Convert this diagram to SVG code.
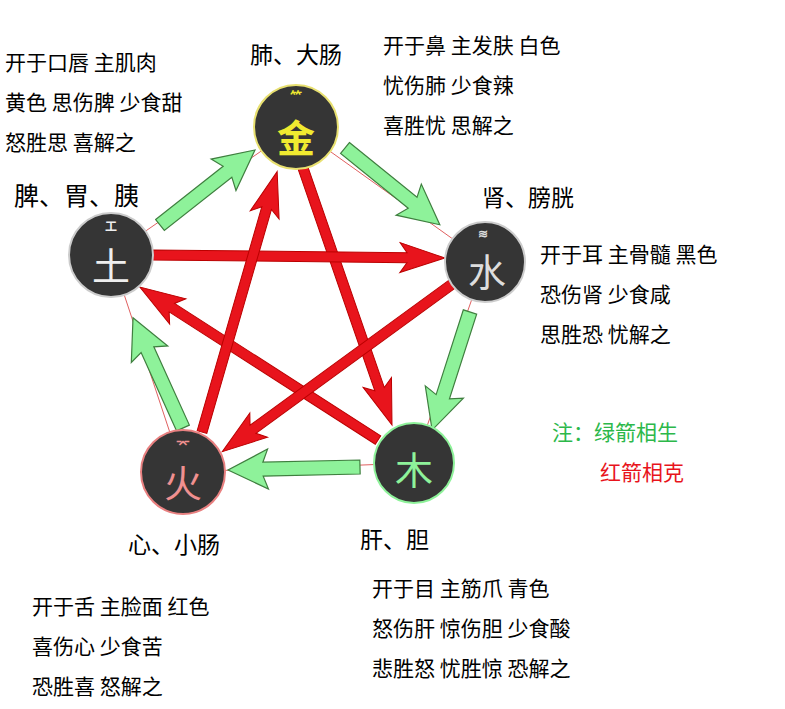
<svg xmlns="http://www.w3.org/2000/svg" width="785" height="709" viewBox="0 0 785 709">
<style>
text{font-family:"Noto Sans CJK SC","Noto Sans",sans-serif;fill:#000}
.t{font-size:21px}
.lb{font-size:23px}
.g{fill:#8ef29a;stroke:#3f7f3f;stroke-width:1.2}
.r{fill:#e8141c;stroke:#b00;stroke-width:1}
.c{fill:#353535;stroke-width:2}
.e{font-size:38px;text-anchor:middle}
.s{font-size:12px;text-anchor:middle;font-weight:bold}
</style>
<rect width="785" height="709" fill="#fff"/>
<g id="connectors">
<polygon points="296,127 485,262 414,463 183,472 111,255" fill="none" stroke="#e06060" stroke-width="1"/>
<g transform="translate(160,225) rotate(-38.3)"><polygon class="g" points="0,-7 86,-7 81,-20 121,0 81,20 86,7 0,7"/></g>
<g transform="translate(345,148) rotate(39)"><polygon class="g" points="0,-7 87,-7 82,-20 122,0 82,20 87,7 0,7"/></g>
<g transform="translate(470,312) rotate(107.8)"><polygon class="g" points="0,-7 89,-7 84,-20 124,0 84,20 89,7 0,7"/></g>
<g transform="translate(360,467) rotate(178.7)"><polygon class="g" points="0,-7 97,-7 92,-20 132,0 92,20 97,7 0,7"/></g>
<g transform="translate(183,428) rotate(-114.4)"><polygon class="g" points="0,-7 86,-7 81,-20 121,0 81,20 86,7 0,7"/></g>
<g transform="translate(303,168) rotate(70.9)"><polygon class="r" points="0,-5 234,-5 227,-15 272,0 227,15 234,5 0,5"/></g>
<g transform="translate(378,440) rotate(212.7)"><polygon class="r" points="0,-5 245,-5 238,-15 283,0 238,15 245,5 0,5"/></g>
<g transform="translate(152,255) rotate(0.6)"><polygon class="r" points="0,-5 255,-5 248,-15 293,0 248,15 255,5 0,5"/></g>
<g transform="translate(455,282) rotate(143.9)"><polygon class="r" points="0,-5 250,-5 243,-15 288,0 243,15 250,5 0,5"/></g>
<g transform="translate(202,432) rotate(-73.9)"><polygon class="r" points="0,-5 233,-5 226,-15 271,0 226,15 233,5 0,5"/></g>
</g>
<g id="metal">
<circle class="c" cx="296" cy="127" r="42" stroke="#e8e070"/>
<text class="s" x="296" y="101" style="fill:#f0ea30">⺮</text>
<text class="e" x="296" y="152" style="fill:#f0ea30;font-weight:bold">金</text>
<text class="lb" x="296" y="63" text-anchor="middle">肺、大肠</text>
<text class="t" x="383" y="53">开于鼻 主发肤 白色</text>
<text class="t" x="383" y="93">忧伤肺 少食辣</text>
<text class="t" x="383" y="133">喜胜忧 思解之</text>
</g>
<g id="water">
<circle class="c" cx="485" cy="262" r="40" stroke="#ccc"/>
<text class="s" x="483" y="238" style="fill:#ddd">≋</text>
<text class="e" x="487" y="286" style="fill:#ddd">水</text>
<text class="lb" x="482" y="206">肾、膀胱</text>
<text class="t" x="540" y="262">开于耳 主骨髓 黑色</text>
<text class="t" x="540" y="302">恐伤肾 少食咸</text>
<text class="t" x="540" y="342">思胜恐 忧解之</text>
</g>
<g id="wood">
<circle class="c" cx="414" cy="463" r="40" stroke="#8ef29a"/>
<text class="e" x="414" y="484" style="fill:#8ef29a">木</text>
<text class="lb" x="360" y="548">肝、胆</text>
<text class="t" x="372" y="596">开于目 主筋爪 青色</text>
<text class="t" x="372" y="636">怒伤肝 惊伤胆 少食酸</text>
<text class="t" x="372" y="676">悲胜怒 忧胜惊 恐解之</text>
</g>
<g id="fire">
<circle class="c" cx="183" cy="472" r="42" stroke="#e88080"/>
<text class="s" x="183" y="448" style="fill:#f09090">⌤</text>
<text class="e" x="183" y="497" style="fill:#f09090">火</text>
<text class="lb" x="128" y="553">心、小肠</text>
<text class="t" x="32" y="614">开于舌 主脸面 红色</text>
<text class="t" x="32" y="654">喜伤心 少食苦</text>
<text class="t" x="32" y="694">恐胜喜 怒解之</text>
</g>
<g id="earth">
<circle class="c" cx="111" cy="255" r="42" stroke="#ccc"/>
<text class="s" x="111" y="231" style="fill:#eee">工</text>
<text class="e" x="111" y="280" style="fill:#eee">土</text>
<text class="lb" x="14" y="205" style="font-size:25px">脾、胃、胰</text>
<text class="t" x="5" y="70">开于口唇 主肌肉</text>
<text class="t" x="5" y="110">黄色 思伤脾 少食甜</text>
<text class="t" x="5" y="150">怒胜思 喜解之</text>
</g>
<text class="t" x="552" y="440" style="fill:#2cb84a">注：绿箭相生</text>
<text class="t" x="600" y="480" style="fill:#e8141c">红箭相克</text>
</svg>
